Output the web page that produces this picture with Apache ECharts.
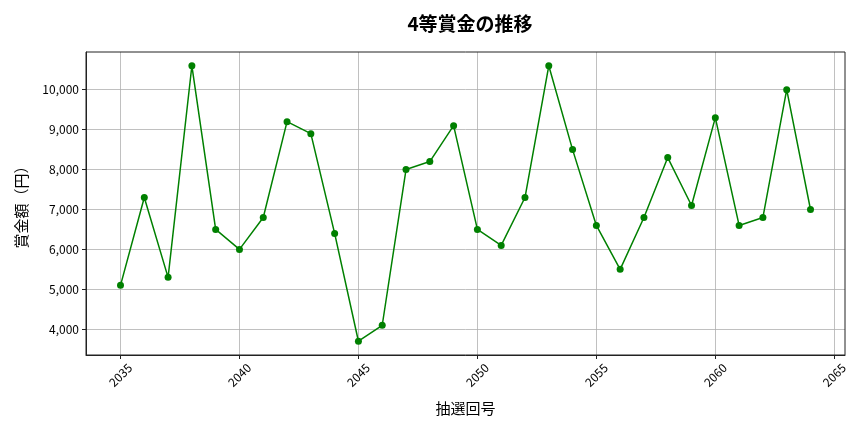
<!DOCTYPE html>
<html><head><meta charset="utf-8">
<script src="https://cdn.jsdelivr.net/npm/echarts@6/dist/echarts.min.js"></script>
<style>html,body{margin:0;padding:0;background:#fff}#c{width:864px;height:432px}</style>
</head><body><div id="c"></div>
<script>
const draws = [2035,2036,2037,2038,2039,2040,2041,2042,2043,2044,2045,2046,2047,2048,2049,2050,2051,2052,2053,2054,2055,2056,2057,2058,2059,2060,2061,2062,2063,2064];
const prizes = [5100,7300,5300,10600,6500,6000,6800,9200,8900,6400,3700,4100,8000,8200,9100,6500,6100,7300,10600,8500,6600,5500,6800,8300,7100,9300,6600,6800,10000,7000];
const xTicks = [2035,2040,2045,2050,2055,2060,2065];
const yTicks = [4000,5000,6000,7000,8000,9000,10000];

const font = '"Noto Sans CJK JP","Noto Sans",sans-serif';
const chart = echarts.init(document.getElementById('c'));
chart.setOption({
  animation:false,
  title:{text:'4等賞金の推移',left:465,top:9,textAlign:'center',textStyle:{fontFamily:font,fontSize:19,fontWeight:'bold',color:'#000'}},
  grid:{left:86,right:19,top:52,bottom:77},
  xAxis:{type:'value',min:2033.55,max:2065.45,
    name:'抽選回号',nameLocation:'middle',nameGap:46,nameTextStyle:{fontFamily:font,fontSize:15,color:'#000'},
    axisLine:{lineStyle:{color:'#222',width:1}},
    axisTick:{show:true,customValues:xTicks,length:4,lineStyle:{color:'#222'}},
    axisLabel:{customValues:xTicks,rotate:45,align:'center',verticalAlign:'middle',fontFamily:font,fontSize:12,color:'#000',margin:20,formatter:v=>String(v)},
    splitLine:{show:true,lineStyle:{color:'#b0b0b0',width:0.8}}},
  yAxis:{type:'value',min:3355,max:10945,
    name:'賞金額（円）',nameLocation:'middle',nameGap:57,nameTextStyle:{fontFamily:font,fontSize:15,color:'#000'},
    axisLine:{show:true,lineStyle:{color:'#222',width:1}},
    axisTick:{show:true,customValues:yTicks,length:4,lineStyle:{color:'#222'}},
    axisLabel:{customValues:yTicks,fontFamily:font,fontSize:12,color:'#000',margin:7,formatter:v=>v.toLocaleString('en-US')},
    splitLine:{show:true,lineStyle:{color:'#b0b0b0',width:0.8}}},
  series:[{type:'line',data:draws.map((d,i)=>[d,prizes[i]]),
    lineStyle:{color:'#008000',width:1.5},itemStyle:{color:'#008000'},
    symbol:'circle',symbolSize:7,showSymbol:true}]
});
chart.setOption({graphic:[{type:'rect',shape:{x:86,y:52,width:759,height:303},style:{fill:'none',stroke:'#222',lineWidth:1},silent:true,z:100}]});
</script></body></html>
